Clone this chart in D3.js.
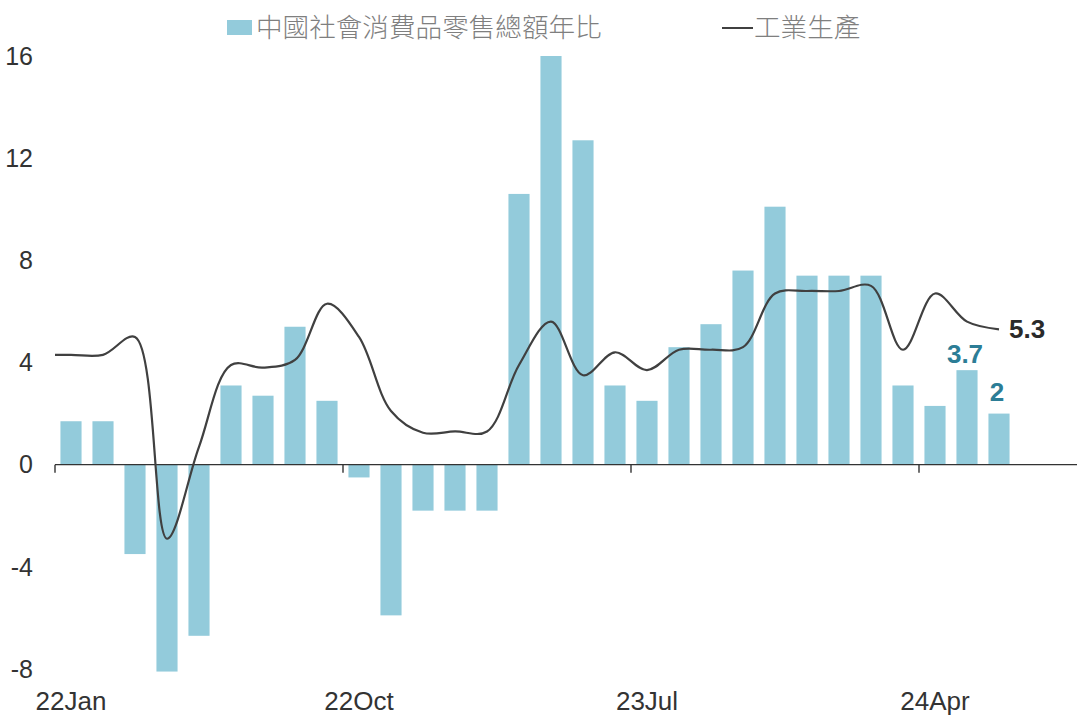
<!DOCTYPE html>
<html>
<head>
<meta charset="utf-8">
<script src="https://cdn.jsdelivr.net/npm/d3@7"></script>
<style>
  html, body { margin: 0; padding: 0; background: #fff; }
  svg { display: block; font-family: "Liberation Sans", Arial, sans-serif; }
</style>
</head>
<body>
<svg id="chart" width="1077" height="718"></svg>
<script>
// ---- data ----
const months = ["22Jan","22Feb","22Mar","22Apr","22May","22Jun","22Jul","22Aug","22Sep","22Oct","22Nov","22Dec",
                "23Jan","23Feb","23Mar","23Apr","23May","23Jun","23Jul","23Aug","23Sep","23Oct","23Nov","23Dec",
                "24Jan","24Feb","24Mar","24Apr","24May","24Jun","24Jul","24Aug"];
const retailSales = [1.7, 1.7, -3.5, -8.1, -6.7, 3.1, 2.7, 5.4, 2.5, -0.5, -5.9, -1.8,
                     -1.8, -1.8, 10.6, 16.0, 12.7, 3.1, 2.5, 4.6, 5.5, 7.6, 10.1, 7.4,
                     7.4, 7.4, 3.1, 2.3, 3.7, 2.0];
// industrial production; first value is 21Dec (one month before the first bar)
const industrialMonths = ["21Dec"].concat(months.slice(0, 30));
const industrial = [4.3, 4.3, 4.3, 5.0, -2.9, 0.7, 3.9, 3.8, 4.1, 6.3, 5.0, 2.1, 1.25,
                    1.3, 1.3, 3.9, 5.6, 3.5, 4.4, 3.7, 4.5, 4.5, 4.6, 6.7, 6.8,
                    6.8, 7.0, 4.5, 6.7, 5.6, 5.3];
const yTicks = [-8, -4, 0, 4, 8, 12, 16];
const xTickLabels = ["22Jan", "22Oct", "23Jul", "24Apr"];
const legendLabels = ["中國社會消費品零售總額年比", "工業生產"];
const barLabels = [{month: "24May", value: 3.7, text: "3.7"}, {month: "24Jun", value: 2.0, text: "2"}];

(function () {
const svg = d3.select("#chart");
const pLeft = 55, pRight = 1079, pTop = 56, pBottom = 669;
const barColor = "#93cbdb", lineColor = "#404040", labelTeal = "#2c7d96";

const x = d3.scaleBand().domain(months).range([pLeft, pRight]).paddingInner(0.34).paddingOuter(0.17);
const step = x.step();
const y = d3.scaleLinear().domain([-8, 16]).range([pBottom, pTop]);
const center = m => x(m) + x.bandwidth() / 2;
const bandStart = m => x(m) - x.paddingOuter() * step;
const lineX = i => pLeft + step * (i - 0.5); // index 0 = 21Dec

svg.append("defs").append("clipPath").attr("id", "plotClip")
  .append("rect").attr("x", pLeft).attr("y", 0).attr("width", 1077 - pLeft).attr("height", 718);

// bars
svg.append("g").selectAll("rect").data(retailSales).join("rect")
  .attr("x", (d, i) => x(months[i]))
  .attr("width", x.bandwidth())
  .attr("y", d => y(Math.max(0, d)))
  .attr("height", d => Math.abs(y(d) - y(0)))
  .attr("fill", barColor);

// y labels
svg.append("g").selectAll("text").data(yTicks).join("text")
  .attr("x", 33).attr("y", d => y(d)).attr("dy", "0.35em")
  .attr("text-anchor", "end").attr("font-size", 25).attr("fill", "#333")
  .text(d => d);

// x axis
svg.append("line").attr("x1", pLeft).attr("x2", 1077).attr("y1", y(0)).attr("y2", y(0))
  .attr("stroke", "#333").attr("stroke-width", 1.4);
svg.append("g").selectAll("line").data(xTickLabels).join("line")
  .attr("x1", d => bandStart(d)).attr("x2", d => bandStart(d))
  .attr("y1", y(0)).attr("y2", y(0) + 8)
  .attr("stroke", "#333").attr("stroke-width", 1.4);
svg.append("g").selectAll("text").data(xTickLabels).join("text")
  .attr("x", d => center(d)).attr("y", 710)
  .attr("text-anchor", "middle").attr("font-size", 26).attr("fill", "#333")
  .text(d => d);

// line
const lineGen = d3.line().x((d, i) => lineX(i)).y(d => y(d)).curve(d3.curveCatmullRom.alpha(0.5));
svg.append("path").datum(industrial)
  .attr("d", lineGen)
  .attr("clip-path", "url(#plotClip)")
  .attr("fill", "none").attr("stroke", lineColor).attr("stroke-width", 2.2);

// end label for line
const lastIdx = industrial.length - 1;
svg.append("text")
  .attr("x", lineX(lastIdx) + 10).attr("y", y(industrial[lastIdx])).attr("dy", "0.35em")
  .attr("font-size", 26).attr("font-weight", "bold").attr("fill", "#2a2a2a")
  .text(industrial[lastIdx]);

// bar labels
svg.append("g").selectAll("text").data(barLabels).join("text")
  .attr("x", d => center(d.month) - 2)
  .attr("y", (d, i) => y(d.value) - (i === 0 ? 7 : 13))
  .attr("text-anchor", "middle").attr("font-size", 26).attr("font-weight", "bold").attr("fill", labelTeal)
  .text(d => d.text);

// legend
const lg = svg.append("g");
lg.append("rect").attr("x", 227).attr("y", 20).attr("width", 25).attr("height", 15).attr("fill", barColor);
lg.append("text").attr("x", 256).attr("y", 28).attr("dy", "0.35em")
  .attr("font-family", "'Noto Sans CJK TC', sans-serif").attr("font-weight", 300)
  .attr("font-size", 26.6).attr("fill", "#7f7f7f").text(legendLabels[0]);
lg.append("line").attr("x1", 722).attr("x2", 753).attr("y1", 28).attr("y2", 28)
  .attr("stroke", lineColor).attr("stroke-width", 2);
lg.append("text").attr("x", 754).attr("y", 28).attr("dy", "0.35em")
  .attr("font-family", "'Noto Sans CJK TC', sans-serif").attr("font-weight", 300)
  .attr("font-size", 26.6).attr("fill", "#7f7f7f").text(legendLabels[1]);
})();
</script>
</body>
</html>
